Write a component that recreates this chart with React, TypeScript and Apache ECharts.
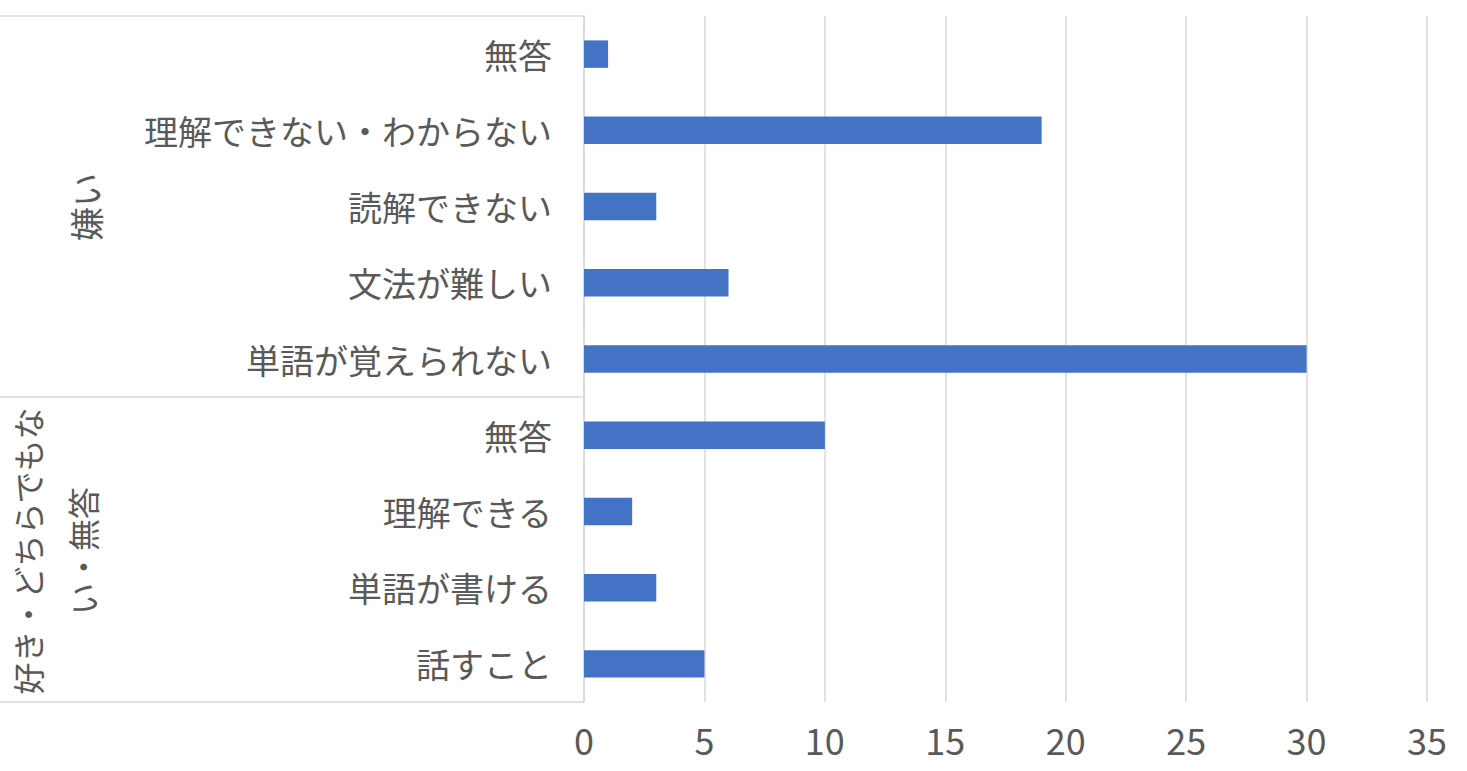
import React, { useEffect, useRef } from "react";
import * as echarts from "echarts";

const categories = [
  "無答",
  "理解できない・わからない",
  "読解できない",
  "文法が難しい",
  "単語が覚えられない",
  "無答",
  "理解できる",
  "単語が書ける",
  "話すこと",
];
const values = [1, 19, 3, 6, 30, 10, 2, 3, 5];
const groupTop = ["嫌い"];
const groupBottom = ["好き・どちらでもな", "い・無答"];
const xTicks = { min: 0, max: 35, interval: 5 };

const FONT = "'Noto Sans CJK JP', 'Noto Sans', sans-serif";
const TEXT = "#595959";
const LINE = "#d9d9d9";

export default function App() {
  const ref = useRef<HTMLDivElement>(null);
  useEffect(() => {
    document.body.style.margin = "0";
    const chart = echarts.init(ref.current!, undefined, { renderer: "svg" });
    const gridLeft = 584;
    const gridTop = 16;
    const gridBottomY = 702;
    const midY = 397;
    chart.setOption({
      animation: false,
      backgroundColor: "#ffffff",
      grid: { left: gridLeft, right: 40, top: gridTop, bottom: 771 - gridBottomY, containLabel: false },
      xAxis: {
        type: "value",
        min: xTicks.min,
        max: xTicks.max,
        interval: xTicks.interval,
        axisLine: { show: false },
        axisTick: { show: false },
        splitLine: { show: true, lineStyle: { color: LINE, width: 1.5 } },
        axisLabel: { color: TEXT, fontSize: 36, fontFamily: FONT, margin: 19 },
      },
      yAxis: {
        type: "category",
        inverse: true,
        data: categories,
        axisLine: { show: true, lineStyle: { color: LINE, width: 1.5 } },
        axisTick: { show: false },
        axisLabel: { color: TEXT, fontSize: 34, fontFamily: FONT, margin: 32 },
      },
      series: [
        {
          type: "bar",
          data: values,
          barWidth: "36%",
          itemStyle: { color: "#4472c4" },
        },
      ],
      graphic: [
        { type: "line", shape: { x1: 0, y1: gridTop, x2: gridLeft, y2: gridTop }, style: { stroke: LINE, lineWidth: 1.5 } },
        { type: "line", shape: { x1: 0, y1: midY, x2: gridLeft, y2: midY }, style: { stroke: LINE, lineWidth: 1.5 } },
        { type: "line", shape: { x1: 0, y1: gridBottomY, x2: gridLeft, y2: gridBottomY }, style: { stroke: LINE, lineWidth: 1.5 } },
        {
          type: "text",
          x: 85,
          y: 207,
          rotation: Math.PI / 2,
          style: { text: groupTop[0], align: "center", verticalAlign: "middle", fontSize: 34, fontFamily: FONT, fill: TEXT },
        },
        {
          type: "text",
          x: 27,
          y: 551,
          rotation: Math.PI / 2,
          style: { text: groupBottom[0], align: "center", verticalAlign: "middle", fontSize: 32, fontFamily: FONT, fill: TEXT },
        },
        {
          type: "text",
          x: 82,
          y: 551,
          rotation: Math.PI / 2,
          style: { text: groupBottom[1], align: "center", verticalAlign: "middle", fontSize: 32, fontFamily: FONT, fill: TEXT },
        },
      ],
    });
    return () => chart.dispose();
  }, []);
  return <div ref={ref} style={{ position: "absolute", left: 0, top: 0, width: 1467, height: 771 }} />;
}
